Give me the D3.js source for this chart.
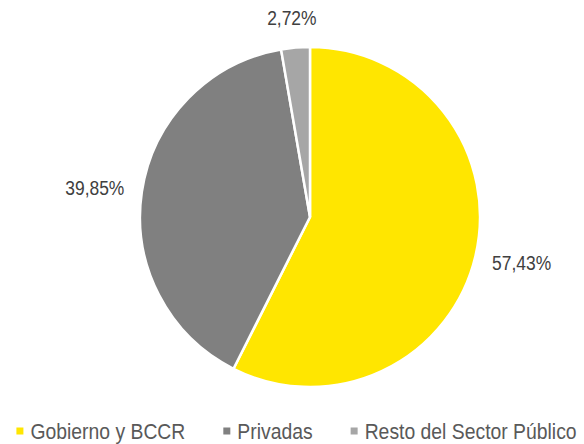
<!DOCTYPE html>
<html>
<head>
<meta charset="utf-8">
<script src="https://cdn.jsdelivr.net/npm/d3@7"></script>
<style>
  body { margin: 0; background: #fff; }
  svg { display: block; font-family: "Liberation Sans", Arial, sans-serif; }
</style>
</head>
<body>
<div id="chart"></div>
<script>
// Chart data
const categories = ["Gobierno y BCCR", "Privadas", "Resto del Sector Público"];
const shares = [57.43, 39.85, 2.72];
const labels = ["57,43%", "39,85%", "2,72%"];
const colors = ["#FFE600", "#808080", "#A6A6A6"];

const width = 584, height = 444;
const cx = 310, cy = 217, radius = 170;
// narrow look: squeeze a regular sans horizontally
const labelSqueeze = 0.83, legendSqueeze = 0.88;

const svg = d3.select("#chart").append("svg")
  .attr("width", width)
  .attr("height", height);

const pie = d3.pie().sort(null).value((d) => d);
const arcs = pie(shares);

const arc = d3.arc().innerRadius(0).outerRadius(radius);
const labelArc = d3.arc().innerRadius(188).outerRadius(188);

const chart = svg.append("g").attr("transform", `translate(${cx}, ${cy})`);

// Slices
chart.selectAll("path")
  .data(arcs)
  .enter().append("path")
  .attr("d", arc)
  .attr("fill", (d, i) => colors[i])
  .attr("stroke", "#fff")
  .attr("stroke-width", 2.5);

// Data labels, pushed outward by half their box
const lbl = chart.selectAll("text.lbl")
  .data(arcs)
  .enter().append("text")
  .attr("class", "lbl")
  .attr("font-size", 21)
  .attr("fill", "#404040")
  .attr("text-anchor", "middle")
  .attr("dominant-baseline", "central")
  .text((d, i) => labels[i]);

lbl.each(function (d) {
  const box = this.getBBox();
  const w = box.width * labelSqueeze;
  const [ax, ay] = labelArc.centroid(d);
  const a = (d.startAngle + d.endAngle) / 2;
  const x = ax + (w / 2) * Math.sin(a);
  const y = ay - (box.height / 2) * Math.cos(a);
  d3.select(this).attr("transform", `translate(${x}, ${y}) scale(${labelSqueeze}, 1)`);
});

// Legend
const legend = svg.append("g");
const items = legend.selectAll("g")
  .data(categories)
  .enter().append("g");

items.append("rect")
  .attr("width", 7)
  .attr("height", 7)
  .attr("y", -11)
  .attr("fill", (d, i) => colors[i]);

items.append("text")
  .attr("transform", `translate(14, 0) scale(${legendSqueeze}, 1)`)
  .attr("font-size", 22)
  .attr("fill", "#595959")
  .text((d) => d);

let xpos = 0;
items.each(function () {
  const w = d3.select(this).select("text").node().getComputedTextLength() * legendSqueeze;
  d3.select(this).attr("transform", `translate(${xpos}, 0)`);
  xpos += 14 + w + 38;
});
const legendWidth = xpos - 38;
legend.attr("transform", `translate(${296.5 - legendWidth / 2}, 438.5)`);
</script>
</body>
</html>
